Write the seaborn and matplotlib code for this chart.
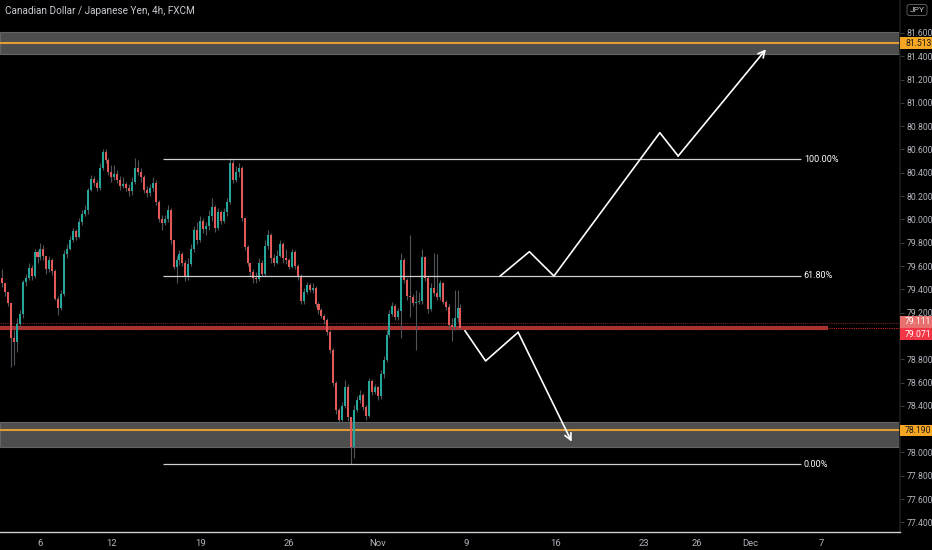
import numpy as np
import matplotlib
matplotlib.use('Agg')
import matplotlib.pyplot as plt
from matplotlib.patches import Rectangle
import pandas as pd
import seaborn as sns

# CADJPY 4h candles (bar index = one 4h candle)
open0 = 79.50
closes = [79.45, 79.38, 79.28, 78.98, 78.95, 79.10, 79.19, 79.46, 79.50, 79.58,
          79.51, 79.72, 79.68, 79.75, 79.69, 79.57, 79.65, 79.56, 79.32, 79.24,
          79.36, 79.70, 79.75, 79.82, 79.90, 79.85, 79.98, 80.05, 80.08, 80.25,
          80.35, 80.31, 80.27, 80.44, 80.58, 80.51, 80.41, 80.36, 80.39, 80.34,
          80.29, 80.30, 80.27, 80.24, 80.32, 80.44, 80.41, 80.36, 80.25, 80.23,
          80.27, 80.31, 80.15, 80.00, 79.97, 80.00, 80.08, 79.82, 79.59, 79.65,
          79.70, 79.63, 79.51, 79.62, 79.75, 79.91, 79.82, 79.99, 79.92, 79.94,
          80.03, 80.11, 79.93, 80.06, 79.99, 80.06, 80.15, 80.48, 80.34, 80.41,
          80.44, 80.01, 79.76, 79.63, 79.55, 79.50, 79.49, 79.63, 79.53, 79.77,
          79.87, 79.67, 79.63, 79.69, 79.79, 79.67, 79.65, 79.59, 79.72, 79.60,
          79.51, 79.30, 79.38, 79.44, 79.39, 79.41, 79.27, 79.22, 79.17, 79.14,
          79.03, 78.88, 78.60, 78.36, 78.28, 78.40, 78.56, 78.30, 78.05, 78.36,
          78.45, 78.49, 78.39, 78.31, 78.61, 78.52, 78.56, 78.48, 78.67, 78.79,
          79.01, 79.19, 79.26, 79.16, 79.21, 79.65, 79.48, 79.34, 79.33, 79.28,
          79.29, 79.30, 79.68, 79.50, 79.23, 79.41, 79.37, 79.33, 79.45, 79.29,
          79.25, 79.09, 79.08, 79.15, 79.24, 79.071]
highs = [79.57, 79.43, 79.38, 79.28, 79.05, 79.15, 79.22, 79.48, 79.53, 79.63,
         79.61, 79.75, 79.74, 79.80, 79.78, 79.69, 79.69, 79.67, 79.57, 79.34,
         79.39, 79.74, 79.79, 79.86, 79.93, 79.92, 80.01, 80.08, 80.12, 80.27,
         80.38, 80.37, 80.34, 80.48, 80.60, 80.60, 80.53, 80.47, 80.47, 80.42,
         80.37, 80.36, 80.32, 80.30, 80.36, 80.53, 80.51, 80.44, 80.38, 80.29,
         80.30, 80.36, 80.34, 80.17, 80.04, 80.04, 80.12, 80.10, 79.82, 79.69,
         79.74, 79.72, 79.65, 79.67, 79.79, 79.94, 79.98, 80.03, 80.01, 79.98,
         80.08, 80.18, 80.12, 80.10, 80.08, 80.10, 80.18, 80.53, 80.51, 80.46,
         80.48, 80.46, 80.01, 79.78, 79.63, 79.57, 79.55, 79.67, 79.65, 79.82,
         79.91, 79.88, 79.70, 79.74, 79.82, 79.81, 79.75, 79.67, 79.75, 79.74,
         79.62, 79.53, 79.41, 79.46, 79.45, 79.45, 79.43, 79.29, 79.24, 79.19,
         79.15, 79.05, 78.90, 78.61, 78.38, 78.43, 78.62, 78.59, 78.30, 78.41,
         78.48, 78.54, 78.51, 78.41, 78.64, 78.63, 78.59, 78.57, 78.71, 78.83,
         79.05, 79.22, 79.29, 79.27, 79.24, 79.71, 79.67, 79.50, 79.87, 79.36,
         79.39, 79.38, 79.75, 79.69, 79.51, 79.45, 79.71, 79.70, 79.48, 79.46,
         79.31, 79.27, 79.15, 79.39, 79.39, 79.27]
lows = [79.42, 79.34, 79.26, 78.73, 78.75, 78.86, 79.08, 79.15, 79.43, 79.48,
        79.48, 79.50, 79.63, 79.65, 79.65, 79.53, 79.55, 79.52, 79.31, 79.18,
        79.22, 79.34, 79.67, 79.74, 79.81, 79.82, 79.84, 79.95, 80.03, 80.05,
        80.24, 80.29, 80.24, 80.25, 80.42, 80.48, 80.38, 80.32, 80.34, 80.31,
        80.25, 80.27, 80.24, 80.20, 80.21, 80.30, 80.38, 80.32, 80.23, 80.19,
        80.20, 80.24, 80.12, 79.98, 79.91, 79.95, 79.98, 79.79, 79.57, 79.45,
        79.61, 79.60, 79.47, 79.48, 79.60, 79.72, 79.79, 79.81, 79.88, 79.87,
        79.91, 79.99, 79.89, 79.91, 79.96, 79.97, 80.03, 80.13, 80.31, 80.32,
        80.36, 79.99, 79.74, 79.60, 79.51, 79.45, 79.45, 79.47, 79.51, 79.51,
        79.75, 79.63, 79.60, 79.62, 79.68, 79.63, 79.62, 79.57, 79.58, 79.57,
        79.48, 79.27, 79.27, 79.36, 79.38, 79.37, 79.25, 79.19, 79.15, 79.10,
        79.01, 78.85, 78.57, 78.33, 78.24, 78.27, 78.38, 78.27, 77.90, 77.95,
        78.35, 78.42, 78.36, 78.28, 78.30, 78.49, 78.50, 78.45, 78.46, 78.64,
        78.78, 78.99, 79.17, 79.14, 79.14, 78.98, 79.45, 79.31, 79.16, 79.26,
        78.88, 79.27, 79.27, 79.47, 79.20, 79.21, 79.34, 79.31, 79.31, 79.27,
        79.22, 79.07, 78.96, 79.05, 79.12, 79.05]

# time axis labels (bar index where each day starts)
date_ticks = [13, 37, 67, 97, 127, 157, 187, 217, 235, 253, 277]
date_labels = ['6', '12', '19', '26', 'Nov', '9', '16', '23', '26', 'Dec', '7']
price_ticks = [77.4, 77.6, 77.8, 78.0, 78.2, 78.4, 78.6, 78.8, 79.0, 79.2,
               79.4, 79.6, 79.8, 80.0, 80.2, 80.4, 80.6, 80.8, 81.0, 81.2, 81.4, 81.6]
hidden_ticks = [78.2, 79.0]  # covered by the price tags on the scale

# drawings
top_zone = (81.42, 81.609)
top_level = 81.513
bot_zone = (78.049, 78.263)
bot_level = 78.190
last_price = 79.071
prev_close = 79.111
fib_low, fib_high = 77.90, 80.516
fib_ratios = [1.0, 0.618, 0.0]
fib_names = ['100.00%', '61.80%', '0.00%']
fib_start, fib_end = 54.4, 270.1
up_bars = [168.4, 178.3, 186.6, 222.4, 228.6, 258.3]
up_prices = [79.514, 79.723, 79.514, 80.744, 80.544, 81.46]
dn_bars = [156.5, 163.5, 174.5, 192.6]
dn_prices = [79.045, 78.785, 79.031, 78.092]

sns.set_theme(style='dark', rc={'axes.facecolor': 'black', 'figure.facecolor': 'black'})
plt.rcParams['font.family'] = ['DejaVu Sans']
narrow = ['Liberation Sans Narrow', 'Roboto', 'DejaVu Sans']

df = pd.DataFrame({'close': closes, 'high': highs, 'low': lows})
df['open'] = [open0] + closes[:-1]
df['high'] = df[['high', 'open', 'close']].max(axis=1)
df['low'] = df[['low', 'open', 'close']].min(axis=1)
df['bar'] = np.arange(len(df))

fig = plt.figure(figsize=(9.32, 5.5), dpi=100)
ax = fig.add_axes([0, 18 / 550, 900 / 932, 532 / 550])
ax.set_xlim(-0.68, 303.6)
ax.set_ylim(77.317, 81.883)

# zones
for lo, hi in [top_zone, bot_zone]:
    ax.axhspan(lo, hi, facecolor='#4e4e4e', edgecolor='#646464', lw=0.8, zorder=1)
ax.axhline(top_level, color='#e39b35', lw=1.5, zorder=2)
ax.axhline(bot_level, color='#e39b35', lw=1.5, zorder=2)

# price lines
ax.axhline(prev_close, color='#6e2626', lw=0.8, ls=(0, (1, 1)), zorder=2)
ax.hlines(last_price, -0.68, 279.2, color='#a43434', lw=3, zorder=2)
ax.axhline(last_price, color='#c62828', lw=0.8, ls=(0, (1, 1)), zorder=2)

# candles
up = df['close'] >= df['open']
cols = np.where(up, '#26a69a', '#e25a57')
ax.vlines(df['bar'], df['low'], df['high'], color='#50545b', lw=0.8, zorder=3)
body = df['close'] - df['open']
body = np.where(body.abs() < 0.006, 0.006, body)
ax.bar(df['bar'], body, bottom=df['open'], width=0.68, color=cols, lw=0, zorder=4)

# fib retracement
for r, name in zip(fib_ratios, fib_names):
    lvl = fib_low + r * (fib_high - fib_low)
    ax.hlines(lvl, fib_start, fib_end, color='#cfcfcf', lw=0.9, zorder=5)
    ax.text(fib_end + 1.0, lvl, name, color='white', fontsize=6.5, va='center', ha='left',
            family=narrow, zorder=6)

# projected paths
paths = pd.concat([
    pd.DataFrame({'bar': up_bars[:-1], 'price': up_prices[:-1], 'path': 'up'}),
    pd.DataFrame({'bar': dn_bars[:-1], 'price': dn_prices[:-1], 'path': 'down'}),
])
sns.lineplot(data=paths, x='bar', y='price', units='path', estimator=None, sort=False,
             color='white', lw=1.2, ax=ax, zorder=7)
for bx, py in [(up_bars, up_prices), (dn_bars, dn_prices)]:
    ax.annotate('', xy=(bx[-1], py[-1]), xytext=(bx[-2], py[-2]),
                arrowprops=dict(arrowstyle='->', color='white', lw=1.2,
                                shrinkA=0, shrinkB=0, mutation_scale=12), zorder=7)

# axes styling
ax.set_xlabel('')
ax.set_ylabel('')
ax.yaxis.tick_right()
ax.set_yticks(price_ticks)
ax.set_yticklabels(['' if v in hidden_ticks else f'{v:.3f}' for v in price_ticks], family=narrow)
ax.set_xticks(date_ticks)
ax.set_xticklabels(date_labels, family=narrow)
ax.tick_params(axis='y', colors='#b2b5be', labelsize=6.2, length=3, width=0.6, pad=2)
ax.tick_params(axis='y', color='#4a4a4a')
ax.tick_params(axis='x', colors='#b2b5be', labelsize=6.8, length=0, pad=5)
ax.grid(False)
for s in ['top', 'left']:
    ax.spines[s].set_visible(False)
ax.spines['bottom'].set_color('#d0d0d0')
ax.spines['bottom'].set_linewidth(1)
ax.spines['right'].set_color('#1c1c1c')

# price tags on the scale
ytr = ax.get_yaxis_transform()
tag_h = 11.5 / 116.5
tags = [(top_level, '81.513', '#f5a623', '#1a1a1a'),
        (bot_level, '78.190', '#f5a623', '#1a1a1a'),
        (prev_close + 0.01, '79.111', '#e8706e', '#ffffff'),
        (last_price - 0.055, '79.071', '#f23645', '#ffffff')]
for p, txt, bg, fg in tags:
    ax.add_patch(Rectangle((1.0, p - tag_h / 2), 32 / 900, tag_h, transform=ytr,
                           facecolor=bg, edgecolor='none', clip_on=False, zorder=9))
    ax.text(1.0 + 5 / 900, p, txt, transform=ytr, color=fg, fontsize=6.2,
            va='center', ha='left', clip_on=False, zorder=10, family=narrow)

fig.text(5 / 932, 1 - 11 / 550, 'Canadian Dollar / Japanese Yen, 4h, FXCM',
         color='#c8cbd2', fontsize=7.2, va='center', ha='left', family=narrow)
fig.text(917 / 932, 1 - 10 / 550, 'JPY', color='#c8cbd2', fontsize=6, va='center', ha='center',
         family=narrow,
         bbox=dict(boxstyle='round,pad=0.3', facecolor='none', edgecolor='#5a5a5a', lw=0.7))

fig.savefig('out.png', dpi=100, facecolor='black')
